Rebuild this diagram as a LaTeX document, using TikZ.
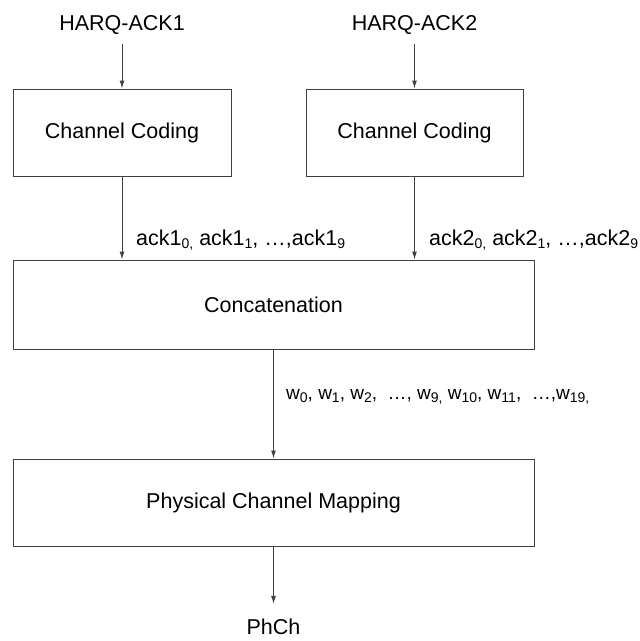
\documentclass[tikz,border=0pt]{standalone}
\usepackage{fontspec}
\setmainfont{Liberation Sans}
\usetikzlibrary{arrows.meta,positioning}

\newcommand{\lowidx}[1]{\raisebox{-3.5pt}{\fontsize{14}{14}\selectfont #1}}

\begin{document}
\begin{tikzpicture}[x=1pt, y=-1pt,
    font=\fontsize{21.5}{24}\selectfont,
    block/.style={draw=black!75, line width=1pt, minimum height=87pt, inner sep=0pt},
    flow/.style={draw=black!75, line width=1pt, -{Latex[length=8pt,width=5pt]}},
    seqlabel/.style={anchor=west, inner sep=0pt}]
    % Frame
    \useasboundingbox (0,0) rectangle (640,641);

    % Inputs
    \node (harq1) at (122,25) {HARQ-ACK1};
    \node (harq2) at (414.5,25) {HARQ-ACK2};

    % Coding blocks
    \node[block, minimum width=218pt] (code1) at (122,132.5) {Channel Coding};
    \node[block, minimum width=217pt] (code2) at (414.5,132.5) {Channel Coding};

    % Concatenation and mapping
    \node[block, minimum width=521pt, minimum height=89pt] (concat) at (273.5,304.5) {Concatenation};
    \node[block, minimum width=521pt] (mapping) at (273.5,502.5) {Physical Channel Mapping};

    % Output
    \node[inner sep=2pt] (phch) at (273.5,627) {PhCh};

    % Connectors
    \draw[flow, shorten <=6pt] (harq1) -- (code1);
    \draw[flow, shorten <=6pt] (harq2) -- (code2);
    \draw[flow] (code1.south) -- (code1.south |- concat.north);
    \draw[flow] (code2.south) -- (code2.south |- concat.north);
    \draw[flow] (concat) -- (mapping);
    \draw[flow, shorten >=13pt] (mapping) -- (phch);

    % Sequence labels
    \node[seqlabel] (seq1) at (136,240) {ack1\lowidx{0,} ack1\lowidx{1}, …,ack1\lowidx{9}};
    \node[seqlabel] (seq2) at (429,240) {ack2\lowidx{0,} ack2\lowidx{1}, …,ack2\lowidx{9}};
    \node[seqlabel, font=\fontsize{19}{22}\selectfont] (seqw) at (286,397)
        {w\lowidx{0}, w\lowidx{1}, w\lowidx{2}, \ …, w\lowidx{9,} w\lowidx{10}, w\lowidx{11}, \ …,w\lowidx{19,}};
\end{tikzpicture}
\end{document}
